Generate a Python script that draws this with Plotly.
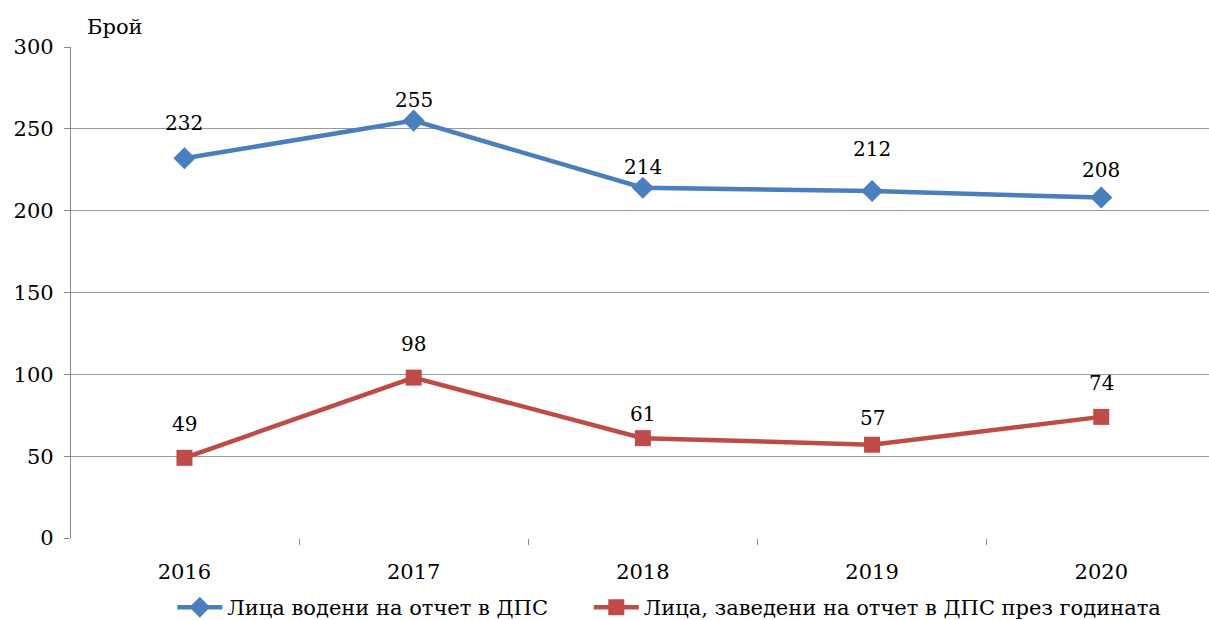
import plotly.graph_objects as go

years = ["2016", "2017", "2018", "2019", "2020"]
series1_name = "Лица водени на отчет в ДПС"
series1 = [232, 255, 214, 212, 208]
series2_name = "Лица, заведени на отчет в ДПС през годината"
series2 = [49, 98, 61, 57, 74]
y_ticks = [0, 50, 100, 150, 200, 250, 300]

# vertical offsets (px) of the data labels above their points, as placed in the original
label_shift1 = [35, 21, 21, 42, 28]
label_shift2 = [34, 34, 24, 27, 34]

xs = list(range(len(years)))
FONT = "DejaVu Serif"
BLUE = "#4A7EBD"
RED = "#BE4B48"

fig = go.Figure()
fig.add_trace(go.Scatter(
    x=xs, y=series1, name=series1_name, mode="lines+markers", legend="legend",
    line=dict(color=BLUE, width=4.5),
    marker=dict(symbol="diamond", size=17, color=BLUE),
))
fig.add_trace(go.Scatter(
    x=xs, y=series2, name=series2_name, mode="lines+markers", legend="legend2",
    line=dict(color=RED, width=4.5),
    marker=dict(symbol="square", size=16, color=RED),
))

for s, shifts in ((series1, label_shift1), (series2, label_shift2)):
    for xi, v, sh in zip(xs, s, shifts):
        fig.add_annotation(x=xi, y=v, text=str(v), showarrow=False,
                           yshift=sh, font=dict(family=FONT, size=20, color="black"))

fig.add_annotation(xref="paper", yref="paper", x=0.012, y=1.0, yshift=20,
                   xanchor="left", yanchor="middle", text="Брой", showarrow=False,
                   font=dict(family=FONT, size=21, color="black"))

legend_common = dict(orientation="h", xanchor="left", yref="container", y=0.02,
                     yanchor="middle", itemwidth=45,
                     font=dict(family=FONT, size=21, color="black"),
                     bgcolor="rgba(0,0,0,0)")

fig.update_layout(
    width=1209, height=620,
    margin=dict(l=71, r=0, t=47, b=82),
    paper_bgcolor="white", plot_bgcolor="white",
    font=dict(family=FONT, size=21, color="black"),
    showlegend=True,
    legend=dict(x=0.089, **legend_common),
    legend2=dict(x=0.455, **legend_common),
)
fig.update_xaxes(
    range=[-0.495, 4.47], tickvals=xs, ticktext=years, ticks="",
    showgrid=False, zeroline=False, showline=False, automargin=False,
    ticklabelstandoff=19,
    tickfont=dict(family=FONT, size=21, color="black"),
    minor=dict(tickvals=[i - 0.5 for i in range(len(years) + 1)], ticks="outside",
               ticklen=6, tickcolor="#878787", showgrid=False),
)
fig.update_yaxes(
    range=[0, 300], tickvals=y_ticks, showgrid=True, gridcolor="#9A9A9A", gridwidth=1.3,
    zeroline=False, showline=True, linecolor="#878787", linewidth=1.3, automargin=False,
    ticks="outside", ticklen=6, tickcolor="#878787", ticklabelstandoff=6,
    tickfont=dict(family=FONT, size=21, color="black"),
)
fig.write_html("out.html", config={"displayModeBar": False},
               post_script="document.body.style.margin='0';document.body.style.overflow='hidden';")
